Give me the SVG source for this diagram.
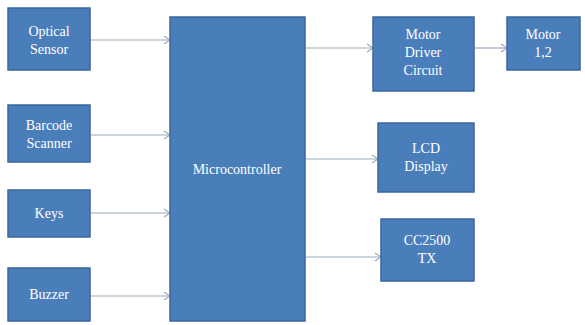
<svg xmlns="http://www.w3.org/2000/svg" width="585" height="325" viewBox="0 0 585 325">
<style>
.box{fill:#4a7ebb;stroke:#3a679c;stroke-width:1.5}
.t{font-size:14px;fill:#ffffff;text-anchor:middle}
.c{stroke:#9aa9bd;stroke-width:1.2;fill:none;marker-end:url(#ah)}
</style>
<defs>
<marker id="ah" markerWidth="8" markerHeight="10" refX="7" refY="5" orient="auto" markerUnits="userSpaceOnUse">
<path d="M1,1 L7,5 L1,9" fill="none" stroke="#9aa9bd" stroke-width="1.2"/>
</marker>
</defs>
<rect width="585" height="325" fill="#ffffff"/>
<g id="connectors">
<line class="c" x1="91" y1="40" x2="170" y2="40"/>
<line class="c" x1="91" y1="135" x2="170" y2="135"/>
<line class="c" x1="91" y1="213" x2="170" y2="213"/>
<line class="c" x1="91" y1="296" x2="170" y2="296"/>
<line class="c" x1="306" y1="48" x2="373" y2="48"/>
<line class="c" x1="475" y1="48" x2="507" y2="48"/>
<line class="c" x1="306" y1="159" x2="378" y2="159"/>
<line class="c" x1="306" y1="257" x2="381" y2="257"/>
</g>
<g font-family="Liberation Serif, DejaVu Serif, serif">
<g id="optical"><rect class="box" x="8" y="8" width="82" height="62"/><text class="t" x="49" y="36">Optical</text><text class="t" x="49" y="54">Sensor</text></g>
<g id="barcode"><rect class="box" x="8" y="105" width="82" height="57"/><text class="t" x="49" y="130">Barcode</text><text class="t" x="49" y="148">Scanner</text></g>
<g id="keys"><rect class="box" x="8" y="190" width="82" height="47"/><text class="t" x="49" y="218">Keys</text></g>
<g id="buzzer"><rect class="box" x="8" y="268" width="82" height="53"/><text class="t" x="49" y="299">Buzzer</text></g>
<g id="micro"><rect class="box" x="170" y="17" width="135" height="304"/><text class="t" x="237" y="174">Microcontroller</text></g>
<g id="driver"><rect class="box" x="373" y="17" width="101" height="74"/><text class="t" x="423" y="39">Motor</text><text class="t" x="423" y="57">Driver</text><text class="t" x="423" y="75">Circuit</text></g>
<g id="motor"><rect class="box" x="507" y="17" width="73" height="53"/><text class="t" x="543" y="39">Motor</text><text class="t" x="543" y="57">1,2</text></g>
<g id="lcd"><rect class="box" x="378" y="123" width="96" height="69"/><text class="t" x="426" y="153">LCD</text><text class="t" x="426" y="171">Display</text></g>
<g id="cc2500"><rect class="box" x="381" y="219" width="93" height="62"/><text class="t" x="427" y="245">CC2500</text><text class="t" x="427" y="263">TX</text></g>
</g>
</svg>
